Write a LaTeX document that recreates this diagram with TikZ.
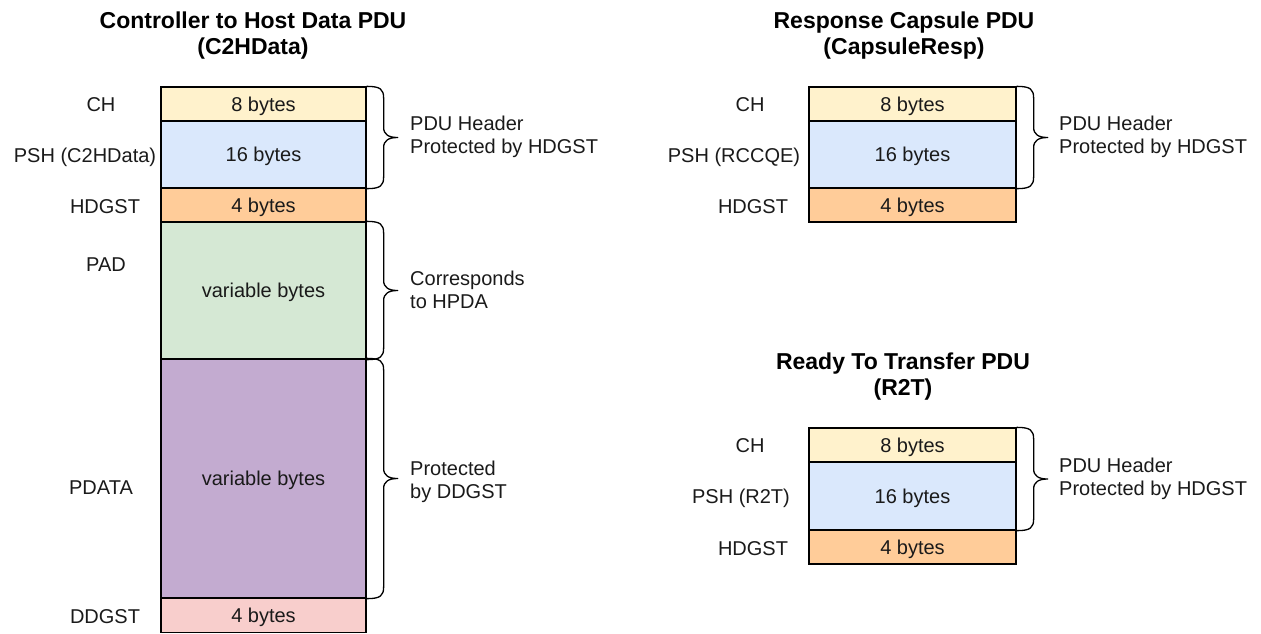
\documentclass[tikz,border=0pt]{standalone}
\usepackage{fontspec}
\setmainfont{Liberation Sans}
\usetikzlibrary{calc}
\definecolor{chcol}{HTML}{FFF2CC}
\definecolor{pshcol}{HTML}{DAE8FC}
\definecolor{hdcol}{HTML}{FFCC99}
\definecolor{padcol}{HTML}{D5E8D4}
\definecolor{pdatacol}{HTML}{C3ABD0}
\definecolor{ddcol}{HTML}{F8CECC}
\definecolor{txt}{HTML}{1A1A1A}
\newcommand{\pdubrace}[2]{%
  \draw[brc] let \p1=(#1.north east), \p2=(#2.south east), \p3=($(\p1)!.5!(\p2)$) in
    (\x1,\y1) .. controls (\x1+14pt,\y1) and (\x1+17pt,\y1-3pt) .. (\x1+17pt,\y1-12pt)
    -- (\x1+17pt,\y3+10pt)
    .. controls (\x1+17pt,\y3+3pt) and (\x1+22pt,\y3) .. (\x1+31pt,\y3)
    .. controls (\x1+22pt,\y3) and (\x1+17pt,\y3-3pt) .. (\x1+17pt,\y3-10pt)
    -- (\x1+17pt,\y2+12pt)
    .. controls (\x1+17pt,\y2+3pt) and (\x1+14pt,\y2) .. (\x1,\y2);%
}
\begin{document}
\begin{tikzpicture}[x=1pt,y=-1pt,
  row/.style={draw=black, line width=1.3pt, inner sep=0pt, text height=14.3pt, text depth=0pt,
    font=\fontsize{20}{23}\selectfont, text=txt},
  lbl/.style={inner sep=0pt, text height=14.3pt, text depth=0pt,
    font=\fontsize{20}{23}\selectfont, text=txt},
  desc/.style={inner sep=0pt, align=left, anchor=west, font=\fontsize{20}{23}\selectfont, text=txt},
  ttl/.style={inner sep=0pt, align=center, font=\bfseries\fontsize{23}{26}\selectfont, text=black},
  brc/.style={draw=black, line width=1.3pt, line join=round}
]
\useasboundingbox (0,0) rectangle (1261,633);

% ---------- Left: C2HData ----------
\node[ttl] (t1) at (253,36) {Controller to Host Data PDU\\(C2HData)};
\node[row, fill=chcol, minimum width=205pt, minimum height=34pt] (lch) at (263.5,104) {8 bytes};
\node[row, fill=pshcol, minimum width=205pt, minimum height=67pt] (lpsh) at (263.5,154.5) {16 bytes};
\node[row, fill=hdcol, minimum width=205pt, minimum height=34pt] (lhd) at (263.5,205) {4 bytes};
\node[row, fill=padcol, minimum width=205pt, minimum height=137pt] (lpad) at (263.5,290.5) {variable bytes};
\node[row, fill=pdatacol, minimum width=205pt, minimum height=239pt] (lpdata) at (263.5,478.5) {variable bytes};
\node[row, fill=ddcol, minimum width=205pt, minimum height=34pt] (ldd) at (263.5,615.5) {4 bytes};

\node[lbl] (lchl) at (101,104) {CH};
\node[lbl] (lpshl) at (85,155) {PSH (C2HData)};
\node[lbl] (lhdl) at (105,206) {HDGST};
\node[lbl] (lpadl) at (106,264) {PAD};
\node[lbl] (lpdatal) at (101,487) {PDATA};
\node[lbl] (lddl) at (105,616) {DDGST};

\pdubrace{lch}{lpsh}
\pdubrace{lpad}{lpad}
\pdubrace{lpdata}{lpdata}
\node[desc] (ld1) at (410,137) {PDU Header\\Protected by HDGST};
\node[desc] (ld2) at (410,290) {Corresponds\\to HPDA};
\node[desc] (ld3) at (410,482) {Protected\\by DDGST};

% ---------- Right top: CapsuleResp ----------
\node[ttl] (t2) at (904,36) {Response Capsule PDU\\(CapsuleResp)};
\node[row, fill=chcol, minimum width=207pt, minimum height=34pt] (rch) at (912.5,104) {8 bytes};
\node[row, fill=pshcol, minimum width=207pt, minimum height=67pt] (rpsh) at (912.5,154.5) {16 bytes};
\node[row, fill=hdcol, minimum width=207pt, minimum height=34pt] (rhd) at (912.5,205) {4 bytes};
\node[lbl] (rchl) at (750,104) {CH};
\node[lbl] (rpshl) at (734,155) {PSH (RCCQE)};
\node[lbl] (rhdl) at (753,206) {HDGST};
\pdubrace{rch}{rpsh}
\node[desc] (rd1) at (1059,137) {PDU Header\\Protected by HDGST};

% ---------- Right bottom: R2T ----------
\node[ttl] (t3) at (903,377) {Ready To Transfer PDU\\(R2T)};
\node[row, fill=chcol, minimum width=207pt, minimum height=34pt] (bch) at (912.5,445) {8 bytes};
\node[row, fill=pshcol, minimum width=207pt, minimum height=68pt] (bpsh) at (912.5,496) {16 bytes};
\node[row, fill=hdcol, minimum width=207pt, minimum height=34pt] (bhd) at (912.5,547) {4 bytes};
\node[lbl] (bchl) at (750,445) {CH};
\node[lbl] (bpshl) at (741,496) {PSH (R2T)};
\node[lbl] (bhdl) at (753,548) {HDGST};
\pdubrace{bch}{bpsh}
\node[desc] (bd1) at (1059,479) {PDU Header\\Protected by HDGST};
\end{tikzpicture}
\end{document}
